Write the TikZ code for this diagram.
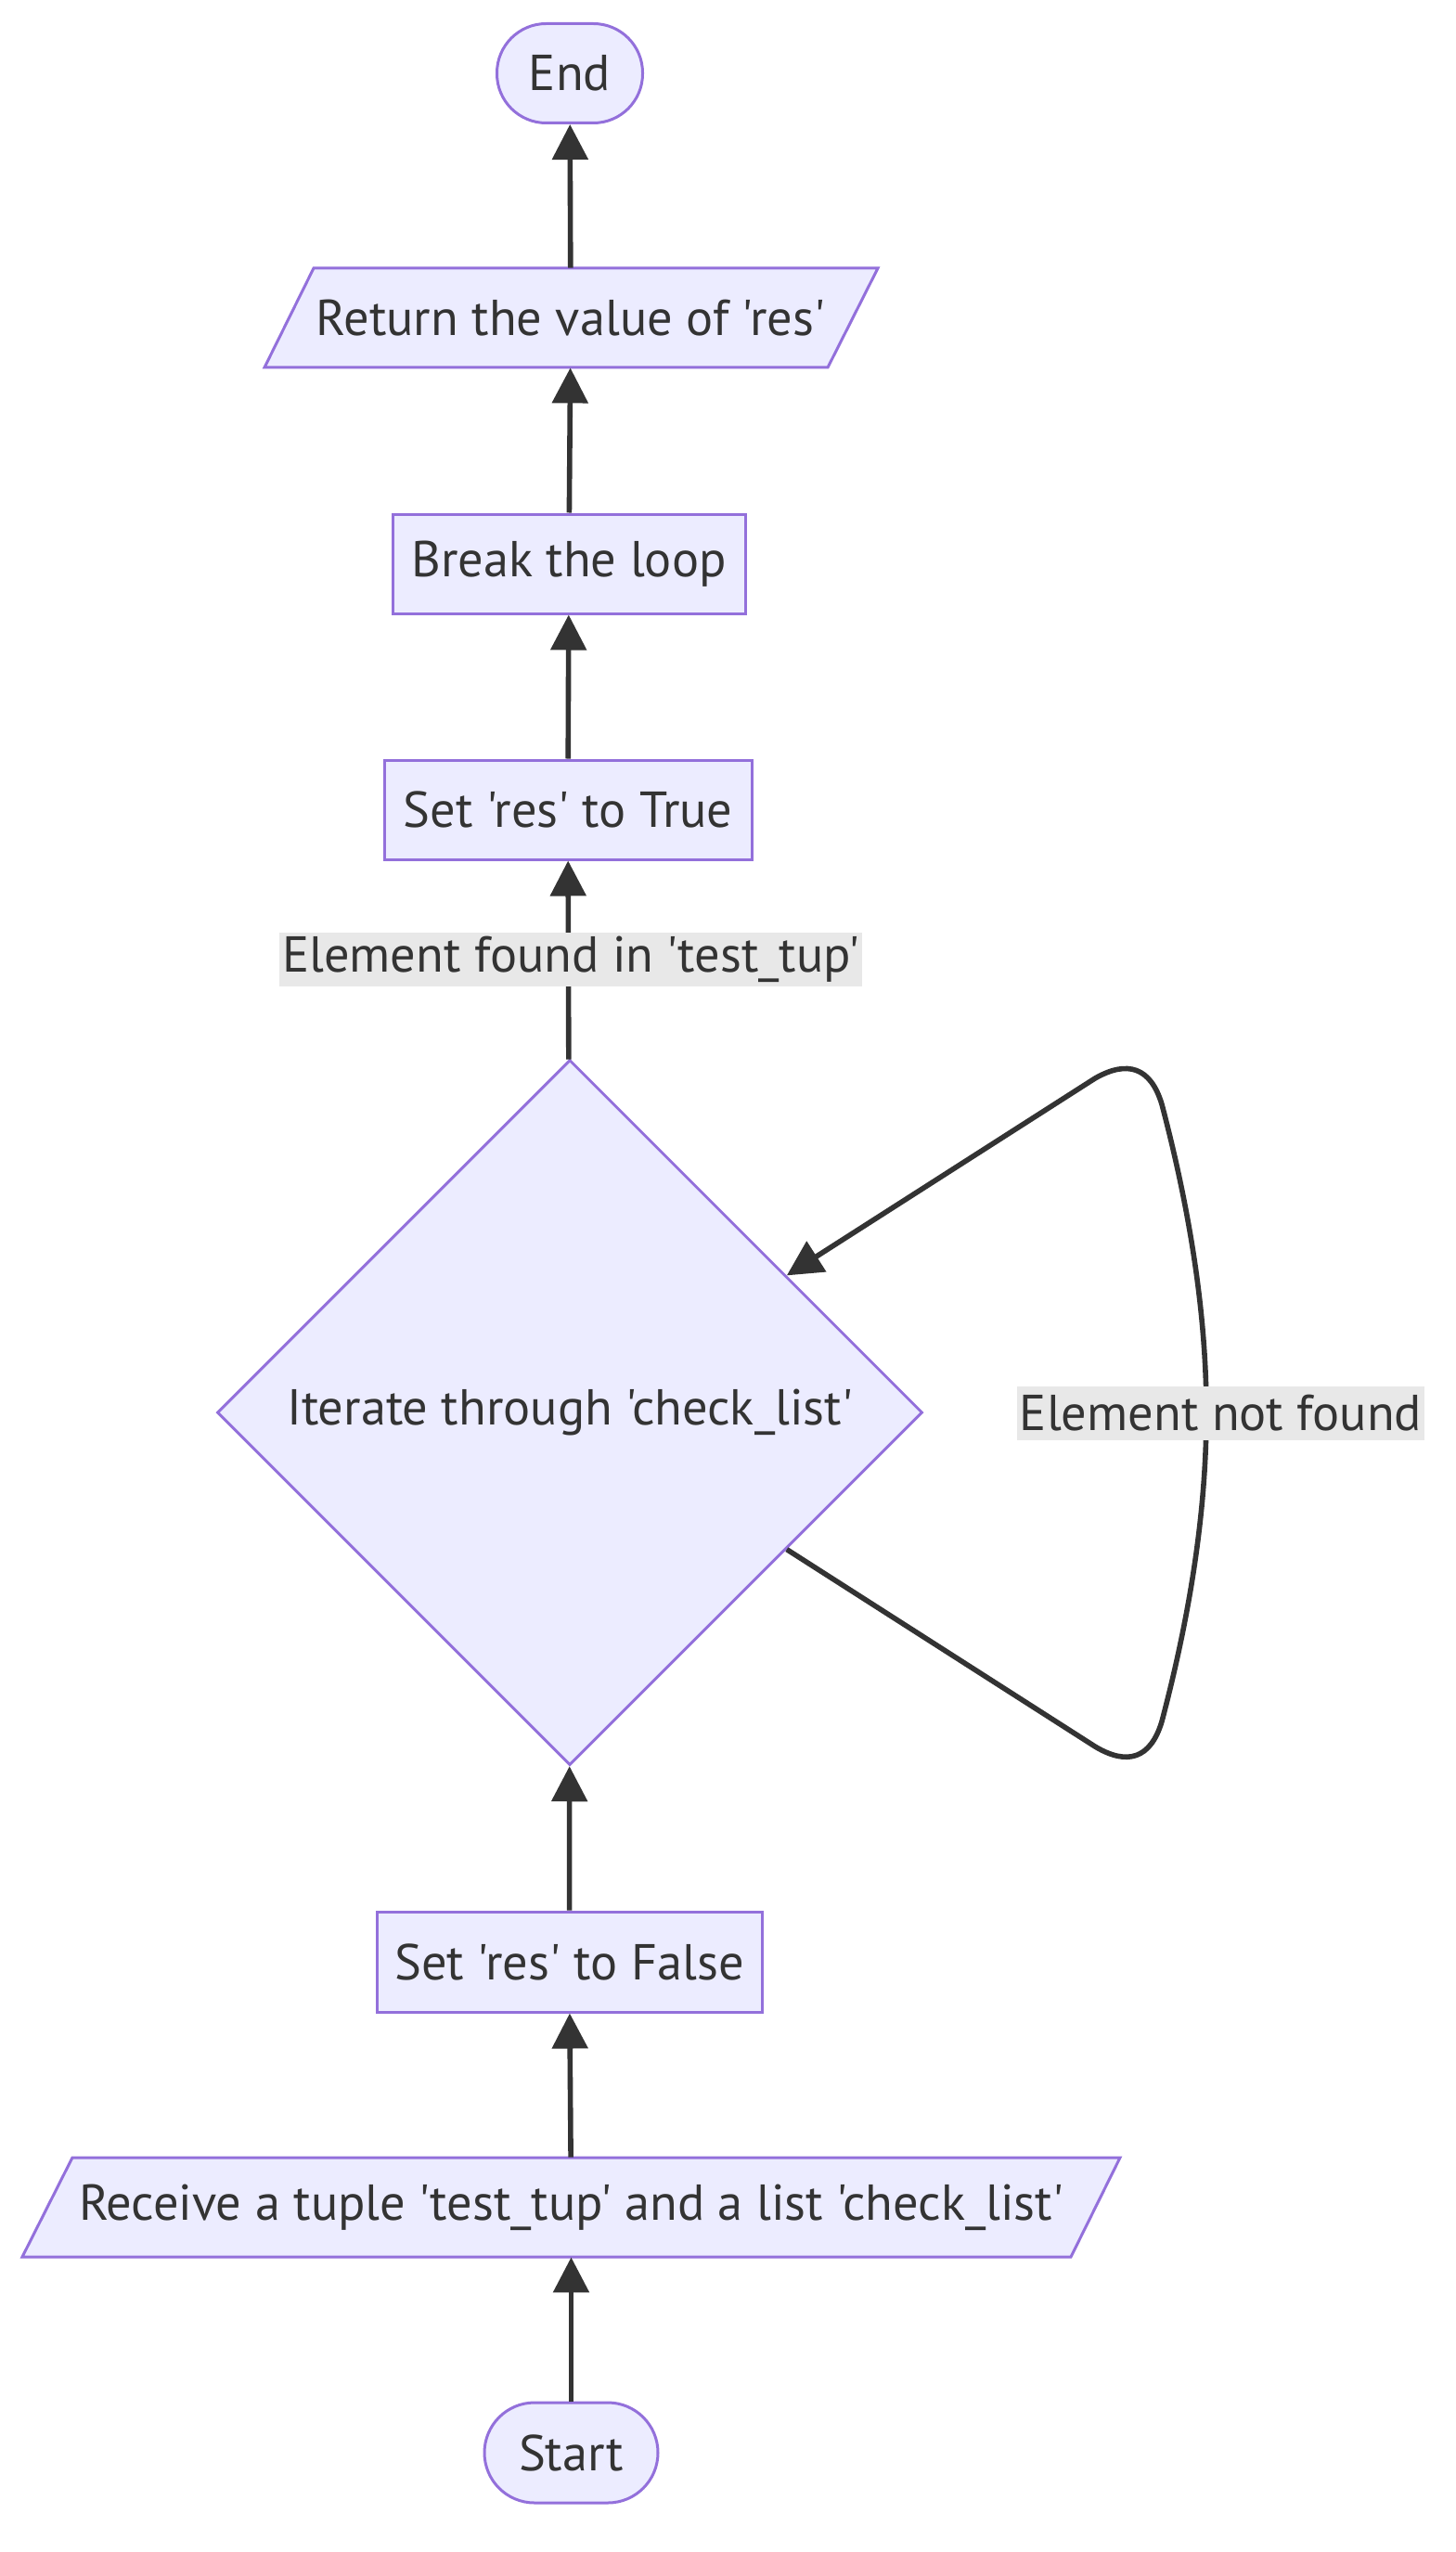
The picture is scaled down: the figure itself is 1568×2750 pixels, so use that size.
\documentclass[tikz,border=0pt]{standalone}
\usepackage{fontspec}
\setmainfont{PT Sans}[Ligatures=TeXOff]
\usetikzlibrary{shapes.geometric,arrows.meta,calc,backgrounds}
\definecolor{nodefill}{HTML}{ECECFF}
\definecolor{nodeborder}{HTML}{9370DB}
\definecolor{ink}{HTML}{333333}
\definecolor{labelbg}{HTML}{E8E8E8}
\tikzset{
  base/.style={font=\fontsize{27.2}{32}\selectfont, text=ink, inner sep=0pt},
  box/.style={base, draw=nodeborder, fill=nodefill, line width=1.5pt, minimum height=53.5pt},
  term/.style={box, rounded corners=26.5pt},
  para/.style={base, minimum height=53.5pt},
  parashape/.style={draw=nodeborder, fill=nodefill, line width=1.5pt, line join=miter},
  decision/.style={base, diamond, draw=nodeborder, fill=nodefill, line width=1.5pt, minimum width=380pt, minimum height=380pt, aspect=1},
  edge/.style={draw=ink, line width=2.8pt, -{Triangle[length=19pt,width=19pt]}},
  elabel/.style={base, fill=labelbg, inner xsep=1.5pt, minimum height=29pt}
}
\begin{document}
\begin{tikzpicture}[x=0.5pt,y=-0.5pt]
\useasboundingbox (0,0) rectangle (1568,2750);
% nodes
\node[term, minimum width=78.5pt] (endn) at (614,79) {End};
\node[para, minimum width=277pt] (ret) at (615,342.5) {Return the value of 'res'};
\node[box, minimum width=190pt] (brk) at (613,607.5) {Break the loop};
\node[box, minimum width=198pt] (settrue) at (612,872.5) {Set 'res' to True};
\node[decision] (dia) at (614,1522) {Iterate through 'check\_list'};
\node[box, minimum width=207.5pt, minimum height=54pt] (setfalse) at (613.5,2114) {Set 'res' to False};
\node[para, minimum width=565pt] (recv) at (615.5,2378.5) {Receive a tuple 'test\_tup' and a list 'check\_list'};
\node[term, minimum width=93.5pt, minimum height=54pt, rounded corners=27pt] (startn) at (615.5,2643) {Start};
% parallelogram outlines
\begin{pgfonlayer}{background}
\draw[parashape] (338,289) -- (946,289) -- (892,396) -- (285,396) -- cycle;
\draw[parashape] (78,2325) -- (1207,2325) -- (1154,2432) -- (24,2432) -- cycle;
\end{pgfonlayer}
% connectors
\draw[edge] (startn) -- (recv);
\draw[edge] (recv) -- (setfalse);
\draw[edge] (setfalse) -- (dia);
\draw[edge] (dia) -- (settrue);
\draw[edge] (settrue) -- (brk);
\draw[edge] (brk) -- (ret);
\draw[edge] (ret) -- (endn);
% loop
\coordinate (lpA) at ($(dia.south)!0.613!(dia.east)$);
\coordinate (lpB) at ($(dia.north)!0.613!(dia.east)$);
\draw[edge] (lpA) -- (1180,1882) .. controls (1215,1903) and (1240,1895) .. (1252,1855)
  .. controls (1285,1730) and (1300,1620) .. (1300,1522)
  .. controls (1300,1425) and (1285,1315) .. (1252,1190)
  .. controls (1240,1150) and (1215,1142) .. (1180,1162) -- (lpB);
% edge labels
\node[elabel] (lblfound) at (615,1034) {Element found in 'test\_tup'};
\node[elabel] (lblnot) at (1315.5,1522.5) {Element not found};
\end{tikzpicture}
\end{document}
